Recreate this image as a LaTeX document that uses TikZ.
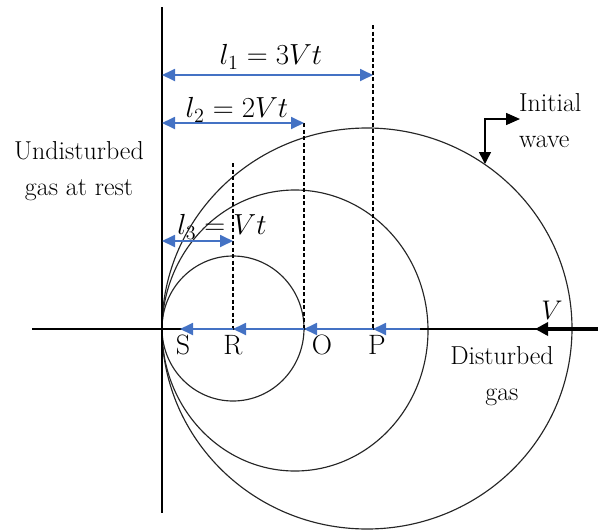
\documentclass[tikz,border=0pt]{standalone}
\usetikzlibrary{arrows.meta}
\definecolor{arrblue}{RGB}{68,114,196}
\newcommand{\bigmath}[2]{\scalebox{#1}{\fontsize{20.74}{24}\selectfont$#2$}}
\newcommand{\bigtext}[3]{\scalebox{#1}{\fontsize{20.74}{29}\selectfont\begin{tabular}{@{}#2@{}}#3\end{tabular}}}
\begin{document}
\begin{tikzpicture}[x=1pt,y=-1pt,
  wave/.style={draw=black!85, line width=1.15pt},
  wallline/.style={draw=black, line width=1.5pt},
  axisline/.style={draw=black, line width=1.2pt},
  dimarrow/.style={draw=arrblue, line width=1.8pt,
    {Triangle[length=13pt,width=12pt]}-{Triangle[length=13pt,width=12pt]}},
  flow/.style={draw=arrblue, line width=1.8pt, -{Triangle[length=13pt,width=12pt]}},
  guide/.style={draw=black, line width=1.3pt, dash pattern=on 4pt off 2.5pt},
  callout/.style={draw=black, line width=1.5pt,
    {Triangle[length=12pt,width=12pt]}-{Triangle[length=14pt,width=12pt]}},
  vel/.style={draw=black, line width=3.5pt, -{Triangle[length=13pt,width=13pt]}},
  txt/.style={inner sep=0pt},
]
\useasboundingbox (0,0) rectangle (598,531);

% key points on the axis
\coordinate (S) at (162,329);
\coordinate (R) at (233,329);
\coordinate (O) at (304,329);
\coordinate (P) at (373,329);
\coordinate (Stip) at (180,329);
\coordinate (Fstart) at (420,329);
\coordinate (axL) at (32,329);
\coordinate (axR) at (598,329);
\coordinate (wallT) at (162,7);
\coordinate (wallB) at (162,513);

% circle centres
\coordinate (c1) at (233,328.5);
\coordinate (c2) at (295,330.5);
\coordinate (c3) at (367,328.5);

% wave fronts
\draw[wave] (c1) ellipse [x radius=71, y radius=72.5];
\draw[wave] (c2) ellipse [x radius=133, y radius=140.5];
\draw[wave] (c3) ellipse [x radius=205, y radius=200.5];

% wall and axis
\draw[wallline] (wallT) -- (wallB);
\draw[axisline] (axL) -- (axR);

% dashed guides
\coordinate (Ptop) at (373,25);
\coordinate (Otop) at (304,123);
\coordinate (Rtop) at (233,163);
\draw[guide] (Ptop) -- (P);
\draw[guide] (Otop) -- (O);
\draw[guide] (Rtop) -- (R);

% dimension arrows
\coordinate (d1L) at (162,75);  \coordinate (d1R) at (373,75);
\coordinate (d2L) at (162,123); \coordinate (d2R) at (304,123);
\coordinate (d3L) at (162,241); \coordinate (d3R) at (233,241);
\draw[dimarrow] (d1L) -- (d1R);
\draw[dimarrow] (d2L) -- (d2R);
\draw[dimarrow] (d3L) -- (d3R);
\node[txt] (l1) at (271,57) {\bigmath{1.4}{l_1 = 3Vt}};
\node[txt] (l2) at (237,110) {\bigmath{1.4}{l_2 = 2Vt}};
\node[txt] (l3) at (222,227) {\bigmath{1.4}{l_3 = Vt}};

% flow arrows on the axis
\draw[flow] (Fstart) -- (P);
\draw[flow] (P) -- (O);
\draw[flow] (O) -- (R);
\draw[flow] (R) -- (Stip);

% point labels
\node[txt] (Slab) at (183,347) {\bigtext{1.35}{c}{S}};
\node[txt] (Rlab) at (233,347) {\bigtext{1.35}{c}{R}};
\node[txt] (Olab) at (322,347) {\bigtext{1.35}{c}{O}};
\node[txt] (Plab) at (377,347) {\bigtext{1.35}{c}{P}};

% velocity arrow
\coordinate (vStart) at (598,329);
\coordinate (vTip) at (535,329);
\draw[vel] (vStart) -- (vTip);
\node[txt] (Vlab) at (552,310) {\bigmath{1.3}{V}};

% region texts
\node[txt] (undist) at (79,170) {\bigtext{1.25}{c}{Undisturbed\\gas at rest}};
\node[txt] (dist) at (502,375) {\bigtext{1.25}{c}{Disturbed\\gas}};
\node[txt, anchor=west] (iw) at (519,122) {\bigtext{1.25}{l}{Initial\\wave}};

% initial wave callout
\coordinate (iwTip) at (485,164);
\coordinate (iwEnd) at (520,119);
\draw[callout] (iwTip) |- (iwEnd);
\end{tikzpicture}
\end{document}
